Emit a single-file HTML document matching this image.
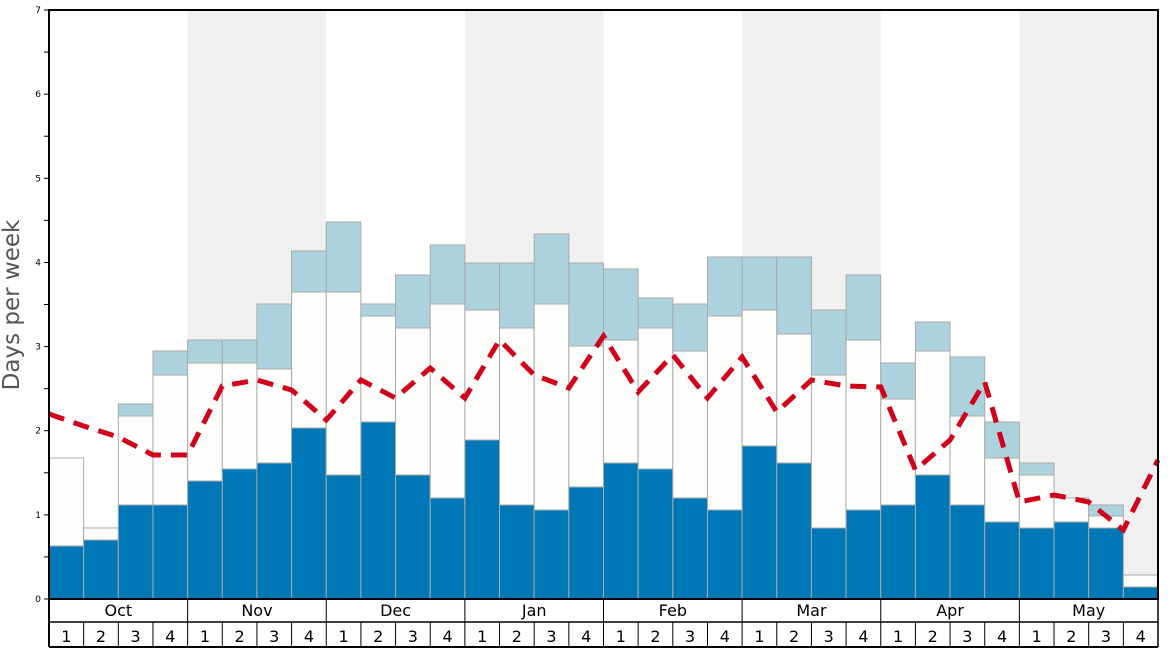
<!DOCTYPE html>
<html><head><meta charset="utf-8"><style>
html,body{margin:0;padding:0;background:#fff;width:1168px;height:648px;overflow:hidden}
svg{display:block;font-family:"DejaVu Sans","Liberation Sans",sans-serif}
</style></head><body>
<svg id="c" width="1168" height="648" viewBox="0 0 1168 648" xmlns="http://www.w3.org/2000/svg"></svg>
<script>
const s=document.getElementById('c');let h='';
const L=49,R=1158,T=10,B=599,W=(R-L)/32;
const months=['Oct','Nov','Dec','Jan','Feb','Mar','Apr','May'];
for(let m=1;m<8;m+=2)h+=`<rect x="${L+m*4*W}" y="${T}" width="${4*W}" height="${B-T}" fill="#f0f0f0"/>`;
const d=[[546,458,458],[540,528,528],[505,416,404],[505,375,351],[481,363,340],[469,363,340],[463,369,304],[428,292,251],[475,292,222],[422,316,304],[475,328,275],[498,304,245],[440,310,263],[505,328,263],[510,304,234],[487,346,263],[463,340,269],[469,328,298],[498,351,304],[510,316,257],[446,310,257],[463,334,257],[528,375,310],[510,340,275],[505,399,363],[475,351,322],[505,416,357],[522,458,422],[528,475,463],[522,498,498],[528,516,505],[587,575,575]];
d.forEach((v,i)=>{const x=L+i*W;
if(v[2]<v[1])h+=`<rect x="${x}" y="${v[2]}" width="${W}" height="${v[1]-v[2]}" fill="#acd2de" stroke="#aaa" stroke-width="1"/>`;
if(v[1]<v[0])h+=`<rect x="${x}" y="${v[1]}" width="${W}" height="${v[0]-v[1]}" fill="#fdfdfb" stroke="#aaa" stroke-width="1"/>`;
h+=`<rect x="${x}" y="${v[0]}" width="${W}" height="${B-v[0]}" fill="#0077b6" stroke="#aaa" stroke-width="1"/>`;});
const ry=[414,426,437,455,455,386,380,390,420,380,398,368,398,340,375,388,336,392,355,398,357,412,380,386,387,470,440,382,502,495,502,530,460];
h+=`<polyline fill="none" stroke="#d0021b" stroke-width="5" stroke-dasharray="16,10" points="${ry.map((y,i)=>(L+i*W)+','+y).join(' ')}"/>`;
h+=`<rect x="${L}" y="${T}" width="${R-L}" height="${B-T}" fill="none" stroke="#000" stroke-width="2"/>`;
for(let k=0;k<=14;k++){const y=B-k*42.07;h+=`<line x1="${L-5}" x2="${L}" y1="${y}" y2="${y}" stroke="#000"/>`;if(k%2==0)h+=`<text x="${L-8}" y="${y+3}" font-size="9" text-anchor="end">${k/2}</text>`;}
h+=`<line x1="${L}" x2="${L}" y1="${B}" y2="647" stroke="#000" stroke-width="2"/><line x1="${R}" x2="${R}" y1="${B}" y2="647" stroke="#000" stroke-width="1.5"/>`;
h+=`<line x1="${L}" x2="${R}" y1="622" y2="622" stroke="#000" stroke-width="1.5"/><line x1="${L}" x2="${R}" y1="647" y2="647" stroke="#000" stroke-width="2"/>`;
months.forEach((m,i)=>{const x=L+i*4*W;if(i>0)h+=`<line x1="${x}" x2="${x}" y1="${B}" y2="622" stroke="#000"/>`;h+=`<text x="${x+2*W}" y="616" font-size="16" text-anchor="middle">${m}</text>`;});
for(let i=0;i<32;i++){const x=L+i*W;if(i>0)h+=`<line x1="${x}" x2="${x}" y1="622" y2="647" stroke="#000"/>`;h+=`<text x="${x+W/2}" y="642" font-size="16" text-anchor="middle">${i%4+1}</text>`;}
h+=`<text transform="translate(19,305) rotate(-90)" font-size="23" fill="#555" text-anchor="middle">Days per week</text>`;
s.innerHTML=h;
</script>
</body></html>
